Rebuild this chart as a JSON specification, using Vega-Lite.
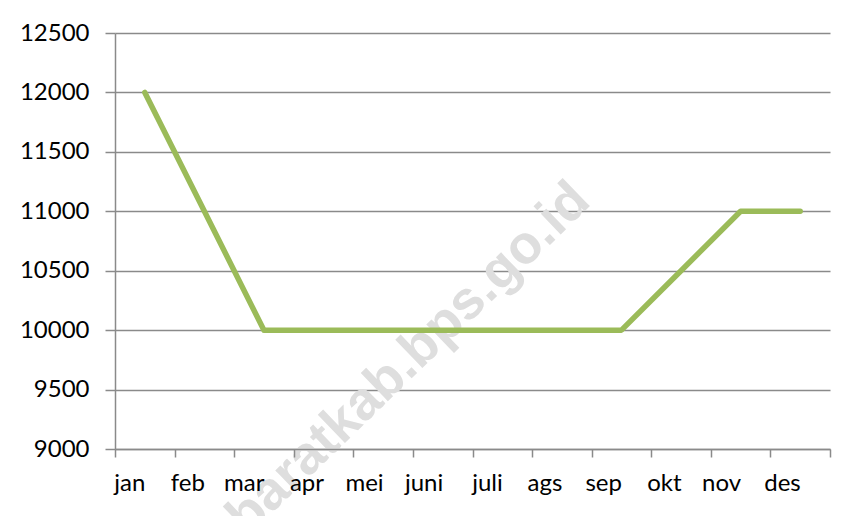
{
  "$schema": "https://vega.github.io/schema/vega-lite/v6.json",
  "width": 715,
  "height": 416,
  "autosize": {"type": "none"},
  "padding": {"left": 115, "top": 33, "right": 27, "bottom": 67},
  "background": "white",
  "config": {
    "view": {"stroke": null},
    "axis": {
      "labelFont": "Lato",
      "labelFontSize": 24,
      "labelColor": "#000000",
      "domainColor": "#8a8a8a",
      "domainWidth": 1.5,
      "tickColor": "#8a8a8a",
      "tickWidth": 1.5,
      "gridColor": "#8a8a8a",
      "gridWidth": 1.5,
      "title": null
    },
    "axisX": {"zindex": 2}
  },
  "layer": [
    {
      "data": {"values": [{"watermark": "baratkab.bps.go.id"}]},
      "mark": {
        "type": "text",
        "font": "Liberation Sans",
        "fontWeight": "bold",
        "fontSize": 54,
        "color": "#dedede",
        "angle": -44,
        "align": "center",
        "baseline": "alphabetic",
        "dx": 51,
        "zindex": 0
      },
      "encoding": {
        "x": {"datum": "mei", "type": "nominal"},
        "y": {"datum": 9363, "type": "quantitative"},
        "text": {"field": "watermark"}
      }
    },
    {
      "data": {
        "values": [
          {"bulan": "jan", "nilai": 12000},
          {"bulan": "feb", "nilai": 11000},
          {"bulan": "mar", "nilai": 10000},
          {"bulan": "apr", "nilai": 10000},
          {"bulan": "mei", "nilai": 10000},
          {"bulan": "juni", "nilai": 10000},
          {"bulan": "juli", "nilai": 10000},
          {"bulan": "ags", "nilai": 10000},
          {"bulan": "sep", "nilai": 10000},
          {"bulan": "okt", "nilai": 10500},
          {"bulan": "nov", "nilai": 11000},
          {"bulan": "des", "nilai": 11000}
        ]
      },
      "mark": {
        "type": "line",
        "color": "#9bbb59",
        "strokeWidth": 5.5,
        "strokeCap": "round",
        "strokeJoin": "round"
      },
      "encoding": {
        "x": {
          "field": "bulan",
          "type": "nominal",
          "sort": null,
          "scale": {"type": "band", "paddingInner": 0, "paddingOuter": 0, "domain": ["jan","feb","mar","apr","mei","juni","juli","ags","sep","okt","nov","des"]},
          "axis": {
            "labelAngle": 0,
            "tickBand": "extent",
            "tickSize": 8,
            "labelPadding": 26,
            "grid": false,
            "zindex": 2
          }
        },
        "y": {
          "field": "nilai",
          "type": "quantitative",
          "scale": {"domain": [9000, 12500], "nice": false, "zero": false},
          "axis": {
            "values": [9000, 9500, 10000, 10500, 11000, 11500, 12000, 12500],
            "tickSize": 10,
            "labelPadding": 16,
            "grid": true,
            "format": "d"
          }
        }
      }
    }
  ]
}
